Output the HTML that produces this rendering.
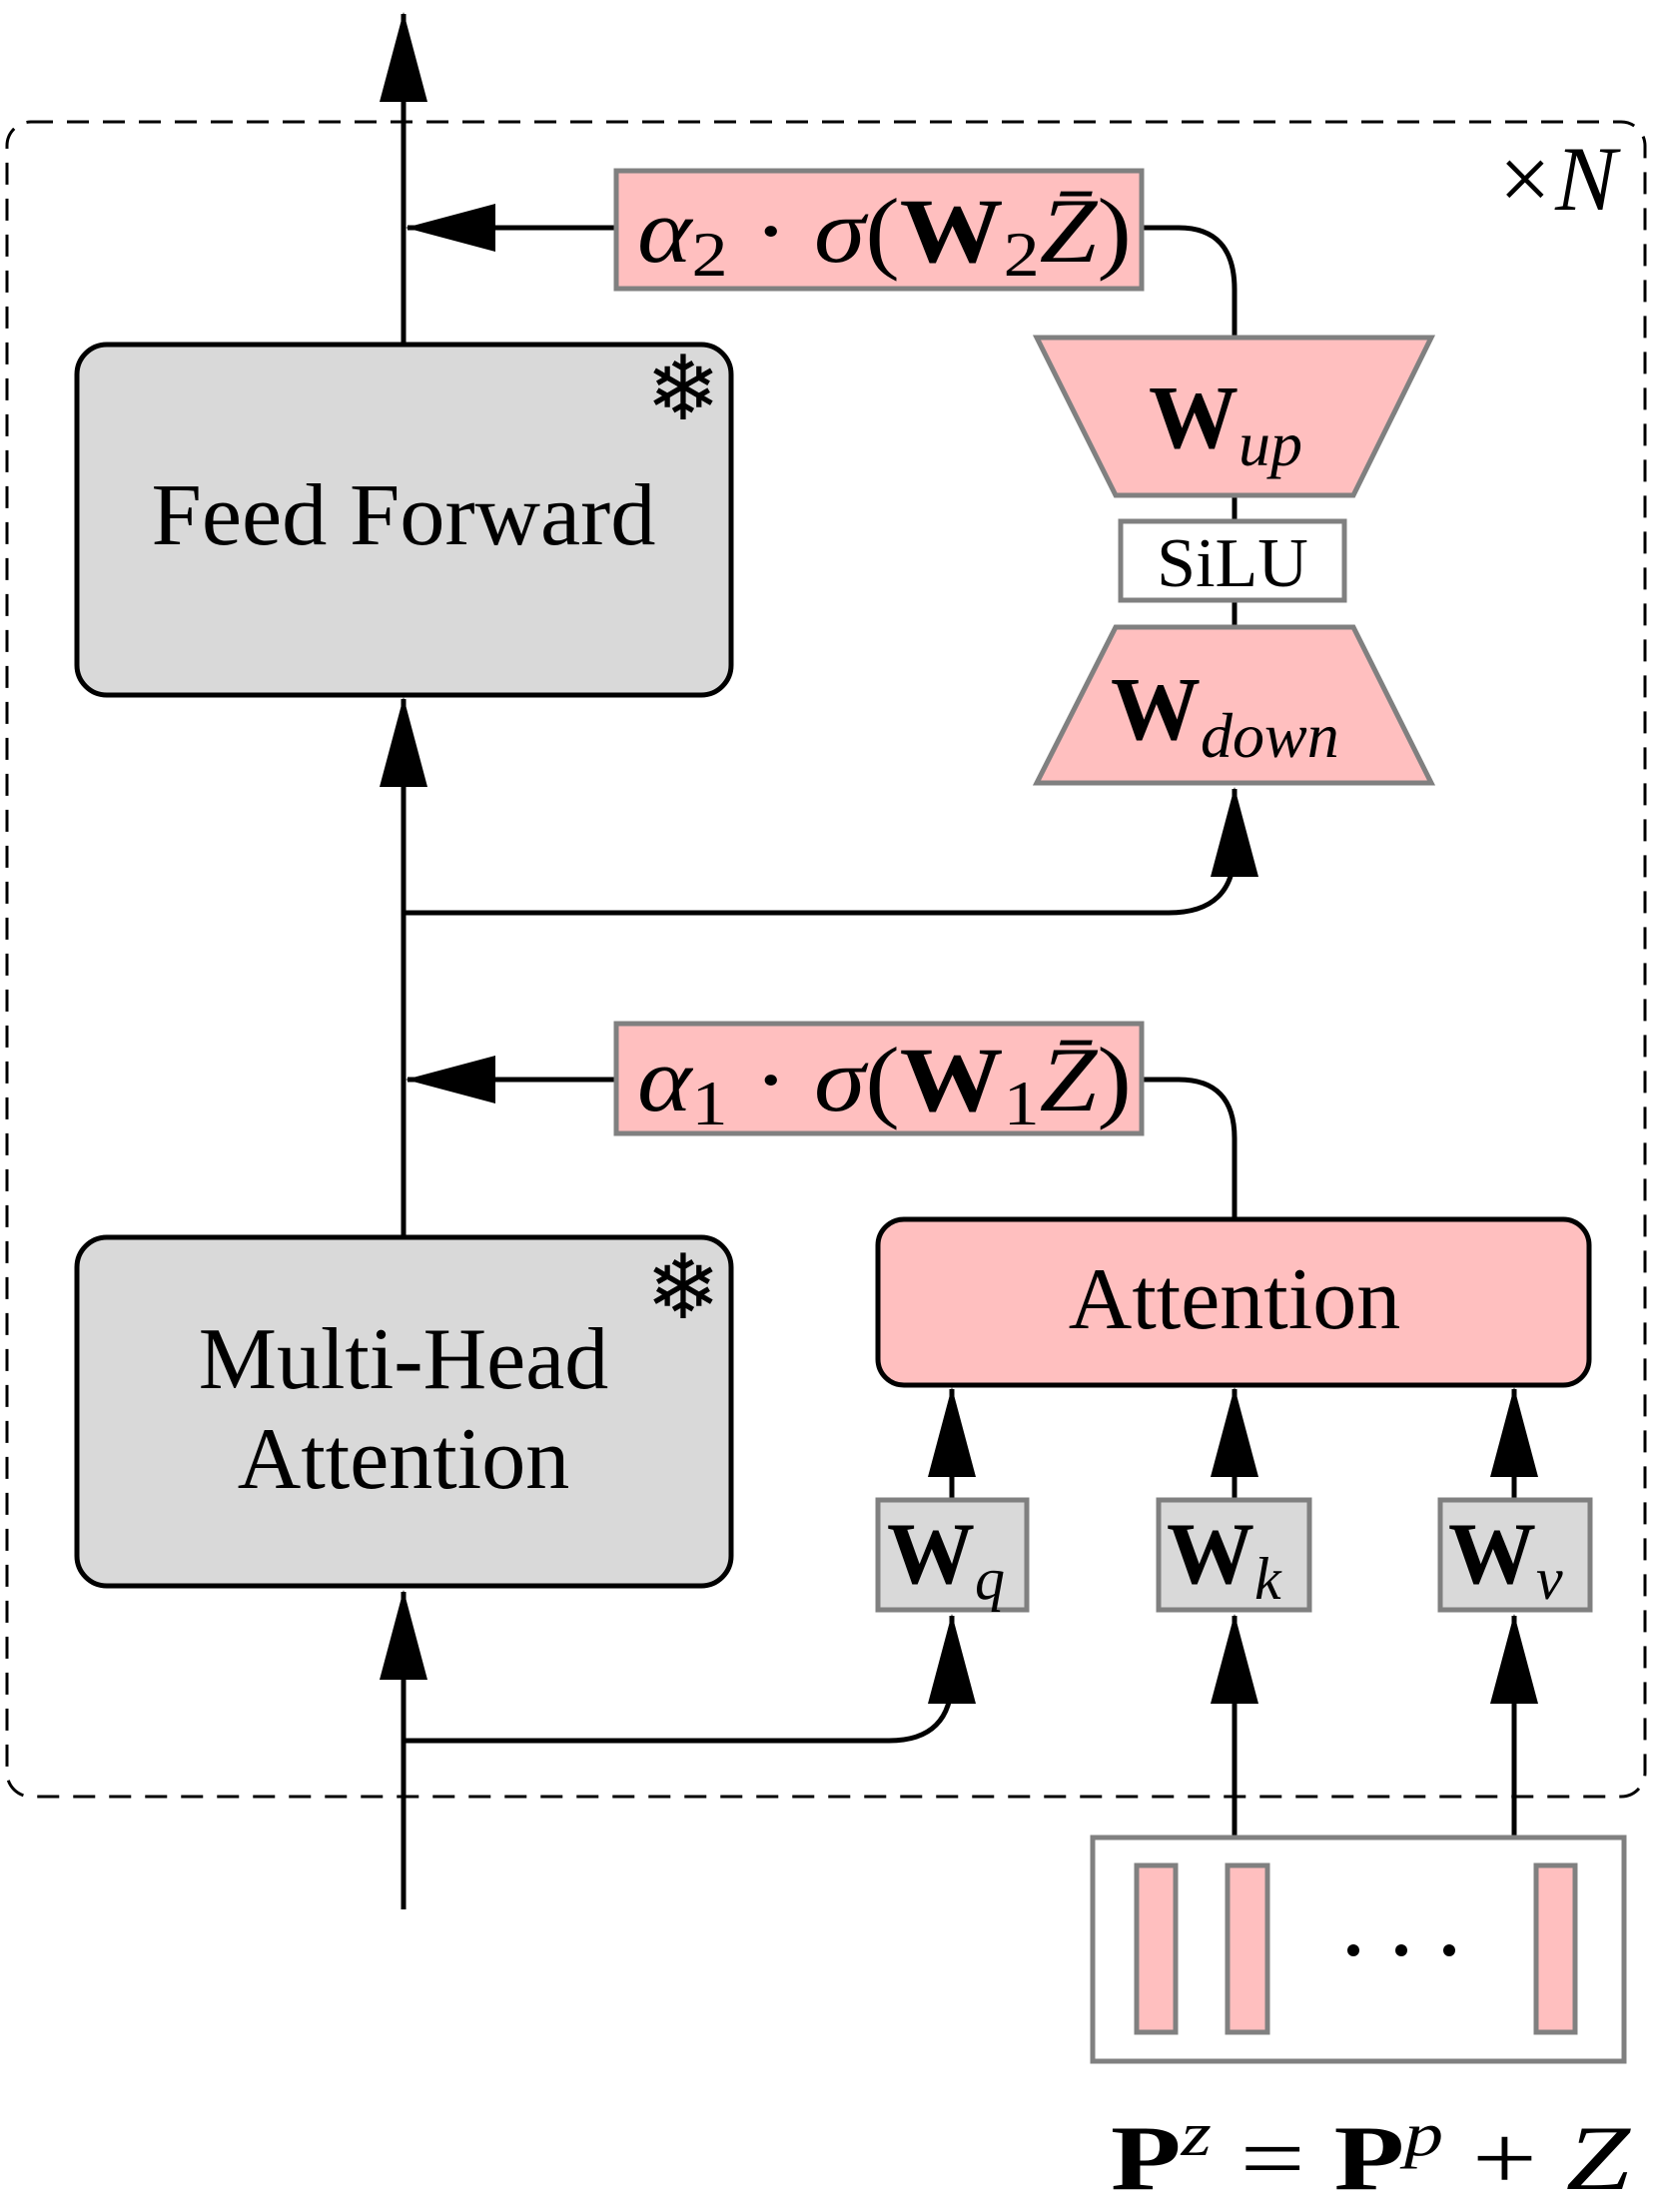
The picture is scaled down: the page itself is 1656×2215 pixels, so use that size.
<!DOCTYPE html>
<html><head><meta charset="utf-8"><style>
html,body{margin:0;padding:0;background:#fff;}
svg{display:block;}
text{font-family:"Liberation Serif","DejaVu Serif",serif;fill:#000;}
</style></head><body>
<svg width="1656" height="2215" viewBox="0 0 1656 2215" xmlns="http://www.w3.org/2000/svg">
<defs>
<marker id="ah" viewBox="0 0 90 48" refX="88" refY="24" markerWidth="90" markerHeight="48" markerUnits="userSpaceOnUse" orient="auto">
<path d="M0,0 L90,24 L0,48 Z" fill="#000"/>
</marker>
</defs>
<!-- dashed frame -->
<rect x="7" y="122" width="1640" height="1677" rx="24" fill="none" stroke="#000" stroke-width="3" stroke-dasharray="22,14"/>
<text x="1495" y="210" font-size="92" font-style="italic">×N</text>

<g stroke="#000" stroke-width="5" fill="none">
<line x1="404" y1="1912" x2="404" y2="1594" marker-end="url(#ah)"/>
<line x1="404" y1="1239" x2="404" y2="700" marker-end="url(#ah)"/>
<line x1="404" y1="345" x2="404" y2="14" marker-end="url(#ah)"/>
<line x1="615" y1="228" x2="408" y2="228" marker-end="url(#ah)"/>
<line x1="615" y1="1081" x2="408" y2="1081" marker-end="url(#ah)"/>
<path d="M1141,228 L1180,228 Q1236,228 1236,290 L1236,338"/>
<path d="M1141,1081 L1180,1081 Q1236,1081 1236,1140 L1236,1221"/>
<line x1="1236" y1="496" x2="1236" y2="522"/>
<line x1="1236" y1="601" x2="1236" y2="628"/>
<path d="M404,914 L1170,914 Q1236,914 1236,850 L1236,790" marker-end="url(#ah)"/>
<path d="M404,1743 L890,1743 Q953,1743 953,1680 L953,1618" marker-end="url(#ah)"/>
<line x1="1236" y1="1840" x2="1236" y2="1618" marker-end="url(#ah)"/>
<line x1="1516" y1="1840" x2="1516" y2="1618" marker-end="url(#ah)"/>
<line x1="953" y1="1502" x2="953" y2="1391" marker-end="url(#ah)"/>
<line x1="1236" y1="1502" x2="1236" y2="1391" marker-end="url(#ah)"/>
<line x1="1516" y1="1502" x2="1516" y2="1391" marker-end="url(#ah)"/>
</g>

<rect x="77" y="345" width="655" height="351" rx="30" fill="#d9d9d9" stroke="#000" stroke-width="5"/>
<text x="404" y="545" font-size="88" text-anchor="middle" textLength="505" lengthAdjust="spacingAndGlyphs">Feed Forward</text>
<text x="684" y="420" font-size="90" text-anchor="middle">❄</text>

<rect x="77" y="1239" width="655" height="349" rx="30" fill="#d9d9d9" stroke="#000" stroke-width="5"/>
<text x="404" y="1390" font-size="88" text-anchor="middle">Multi-Head</text>
<text x="404" y="1490" font-size="88" text-anchor="middle">Attention</text>
<text x="684" y="1320" font-size="90" text-anchor="middle">❄</text>

<rect x="617" y="171" width="526" height="118" fill="#ffbfbf" stroke="#808080" stroke-width="5"/>
<text x="638" y="262" font-size="92" textLength="495" lengthAdjust="spacingAndGlyphs"><tspan font-style="italic">α</tspan><tspan font-size="64" dy="14">2</tspan><tspan dy="-14"> · </tspan><tspan font-style="italic">σ</tspan>(<tspan font-weight="bold">W</tspan><tspan font-size="64" dy="14">2</tspan><tspan dy="-14" font-style="italic">Z̄</tspan>)</text>
<rect x="617" y="1025" width="526" height="110" fill="#ffbfbf" stroke="#808080" stroke-width="5"/>
<text x="638" y="1112" font-size="92" textLength="495" lengthAdjust="spacingAndGlyphs"><tspan font-style="italic">α</tspan><tspan font-size="64" dy="14">1</tspan><tspan dy="-14"> · </tspan><tspan font-style="italic">σ</tspan>(<tspan font-weight="bold">W</tspan><tspan font-size="64" dy="14">1</tspan><tspan dy="-14" font-style="italic">Z̄</tspan>)</text>

<polygon points="1038,338 1433,338 1355,496 1117,496" fill="#ffbfbf" stroke="#808080" stroke-width="5"/>
<text x="1150" y="448" font-size="90" font-weight="bold">W<tspan font-size="64" font-weight="normal" font-style="italic" dy="18">up</tspan></text>
<rect x="1122" y="522" width="224" height="79" fill="#fff" stroke="#808080" stroke-width="5"/>
<text x="1234" y="587" font-size="70" text-anchor="middle">SiLU</text>
<polygon points="1117,628 1355,628 1433,784 1038,784" fill="#ffbfbf" stroke="#808080" stroke-width="5"/>
<text x="1112" y="740" font-size="90" font-weight="bold">W<tspan font-size="64" font-weight="normal" font-style="italic" dy="18">down</tspan></text>

<rect x="879" y="1221" width="712" height="166" rx="26" fill="#ffbfbf" stroke="#000" stroke-width="5"/>
<text x="1236" y="1330" font-size="88" text-anchor="middle">Attention</text>

<rect x="879" y="1502" width="149" height="110" fill="#d9d9d9" stroke="#808080" stroke-width="5"/>
<text x="888" y="1585" font-size="88" font-weight="bold">W<tspan font-size="60" font-weight="normal" font-style="italic" dy="16">q</tspan></text>
<rect x="1160" y="1502" width="151" height="110" fill="#d9d9d9" stroke="#808080" stroke-width="5"/>
<text x="1168" y="1585" font-size="88" font-weight="bold">W<tspan font-size="60" font-weight="normal" font-style="italic" dy="16">k</tspan></text>
<rect x="1442" y="1502" width="150" height="110" fill="#d9d9d9" stroke="#808080" stroke-width="5"/>
<text x="1450" y="1585" font-size="88" font-weight="bold">W<tspan font-size="60" font-weight="normal" font-style="italic" dy="16">v</tspan></text>

<rect x="1094" y="1840" width="532" height="224" fill="#fff" stroke="#808080" stroke-width="5"/>
<rect x="1138" y="1868" width="39" height="167" fill="#ffbfbf" stroke="#808080" stroke-width="5"/>
<rect x="1229" y="1868" width="40" height="167" fill="#ffbfbf" stroke="#808080" stroke-width="5"/>
<rect x="1538" y="1868" width="39" height="167" fill="#ffbfbf" stroke="#808080" stroke-width="5"/>
<circle cx="1355" cy="1953" r="6" fill="#000"/>
<circle cx="1403" cy="1953" r="6" fill="#000"/>
<circle cx="1451" cy="1953" r="6" fill="#000"/>
<text x="1112" y="2192" font-size="92" textLength="520" lengthAdjust="spacingAndGlyphs"><tspan font-weight="bold">P</tspan><tspan font-style="italic" font-size="62" dy="-34">z</tspan><tspan dy="34"> = </tspan><tspan font-weight="bold">P</tspan><tspan font-style="italic" font-size="62" dy="-34">p</tspan><tspan dy="34"> + </tspan><tspan font-style="italic">Z</tspan></text>
</svg>
</body></html>
